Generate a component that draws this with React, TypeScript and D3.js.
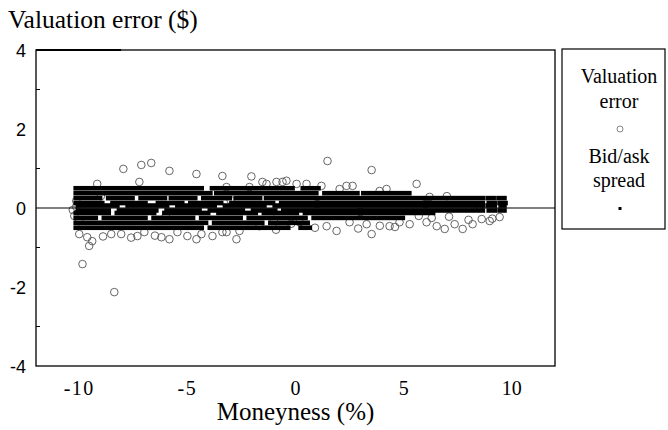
import React from "react";
import * as d3 from "d3";

// Valuation error observations (moneyness %, error $)
const errMoneyness = [
  -7.96, -7.13, -6.67, -5.83, -4.58, -3.38, -2.04, -1.53, -0.88, -0.42, 0.05, 0.51, 1.2, 1.48, 2.04, 2.36, 2.64, 3.52, 3.89, 4.21, 5.6,
  -7.22, -9.17, -3.19, -2.13, -1.34, -0.6, 6.2, 7.0,
  -10.14, -10.23, -10.0, -10.14, -10.3,
  -10.0, -9.63, -9.54, -9.4, -8.52, -8.06, -7.31, -6.99, -6.2, -5.83, -5.46, -5.0, -4.58, -4.35, -3.84, -3.38, -3.19, -2.73, -2.59, -1.67, -7.6, -6.5, -8.9,
  0.19, 1.44, 1.9, 2.5, 3.29, 3.52, 4.35, 4.81, 5.28, 6.06, 6.53, 6.9, 7.36, 7.73, 8.19, 8.61, 8.98, 9.44, 5.7, 6.3, 7.1, 8.0, 9.1,
  -0.9, -0.2, 0.9, 2.9, 3.9, 4.6,
  -9.85, -8.38,
  -9.0, -6.0, -3.0, -1.0, 1.0, 3.0, 6.0, 8.5,
];
const errValue = [
  0.99, 1.09, 1.14, 0.94, 0.86, 0.81, 0.8, 0.66, 0.66, 0.69, 0.61, 0.61, 0.56, 1.19, 0.48, 0.56, 0.56, 0.96, 0.43, 0.48, 0.61,
  0.66, 0.61, 0.53, 0.53, 0.61, 0.66, 0.28, 0.3,
  0.18, -0.2, -0.33, 0.03, -0.05,
  -0.66, -0.74, -0.96, -0.84, -0.66, -0.66, -0.71, -0.61, -0.74, -0.79, -0.61, -0.71, -0.79, -0.66, -0.71, -0.61, -0.61, -0.79, -0.58, -0.46, -0.75, -0.7, -0.72,
  -0.36, -0.46, -0.58, -0.36, -0.41, -0.66, -0.46, -0.36, -0.41, -0.36, -0.46, -0.53, -0.41, -0.53, -0.41, -0.28, -0.33, -0.23, -0.2, -0.25, -0.22, -0.3, -0.27,
  -0.55, -0.4, -0.5, -0.52, -0.45, -0.48,
  -1.42, -2.13,
  0.3, -0.2, 0.2, -0.3, 0.1, -0.1, 0.1, 0.05,
];

// Bid/ask half-spread observations: level ($) observed over moneyness ranges
const spreadLevel = [
  0.5, 0.5, 0.5,
  0.375, 0.375, 0.375, 0.375,
  0.25, 0.25, 0.25, 0.25, 0.25, 0.25, 0.25, 0.25, 0.25,
  0.125, 0.125, 0.125, 0.125, 0.125, 0.125, 0.125, 0.125,
  0.0625, 0.0625, 0.0625, 0.0625, 0.0625, 0.0625, 0.0625,
  -0.0625, -0.0625, -0.0625, -0.0625, -0.0625, -0.0625, -0.0625, -0.0625,
  -0.125, -0.125, -0.125, -0.125, -0.125, -0.125,
  -0.25, -0.25, -0.25, -0.25, -0.25, -0.25,
  -0.375, -0.375, -0.375,
  -0.5, -0.5, -0.5,
];
const spreadFrom = [
  -10.2, -3.9, 0.3,
  -10.2, -3.7, 1.3, 3.1,
  -10.2, -8.7, -7.2, -5.8, -4.3, -2.8, -1.4, 8.85, 9.35,
  -10.2, -8.5, -6.4, -4.9, -3.0, -0.7, 8.9, 9.4,
  -10.1, -7.8, -5.5, -3.3, -1.0, 8.85, 9.45,
  -10.1, -8.2, -6.0, -4.0, -2.0, -0.6, 8.9, 9.4,
  -10.2, -8.3, -6.1, -3.6, -1.5, 0.4,
  -10.2, -8.9, -6.6, -4.4, -2.2, 0.8,
  -10.2, -3.8, -1.2,
  -10.2, -4.0, 0.2,
];
const spreadTo = [
  -4.3, -0.1, 1.1,
  -3.9, 1.0, 2.9, 5.3,
  -9.0, -7.5, -6.0, -4.6, -3.0, -1.6, 8.7, 9.2, 9.7,
  -8.9, -6.9, -5.2, -3.4, -1.0, 8.7, 9.25, 9.75,
  -8.2, -5.9, -3.7, -1.4, 8.7, 9.25, 9.7,
  -8.6, -6.4, -4.4, -2.4, -0.9, 8.7, 9.25, 9.7,
  -8.6, -6.5, -4.0, -1.8, 0.1, 6.4,
  -9.2, -6.9, -4.7, -2.5, 0.5, 5.0,
  -4.1, -1.5, 0.6,
  -4.3, -0.3, 0.7,
];

const xTicks = [-10, -5, 0, 5, 10];
const yTicks = [-4, -2, 0, 2, 4];
const yMinorTicks = [-3, -1, 1, 3];

const SERIF = "Liberation Serif";
const SANS = "Liberation Sans";

export default function App() {
  const left = 36, right = 555, top = 50, bottom = 366;
  const x = d3.scaleLinear().domain([-12, 12]).range([left, right]);
  const y = d3.scaleLinear().domain([-4, 4]).range([bottom, top]);

  const segs = spreadLevel.map((lv, i) => ({ lv, a: spreadFrom[i], b: spreadTo[i] }));
  const pts = errMoneyness.map((m, i) => ({ m, e: errValue[i] }));

  return (
    <svg width={668} height={430} style={{ position: "absolute", left: 0, top: 0, background: "#fff" }}>
      <text fontFamily={SERIF} x={8} y={28} fontSize={25.5} fill="#000">Valuation error ($)</text>

      {/* valuation error circles */}
      {pts.map((p, i) => (
        <circle key={"c" + i} cx={x(p.m)} cy={y(p.e)} r={3.8} fill="none" stroke="#555" strokeWidth={0.9} />
      ))}

      {/* bid/ask spread squares (dense runs) */}
      {segs.map((s, i) => (
        <rect key={"s" + i} x={x(s.a) - 1.5} y={y(s.lv) - 2.3} width={x(s.b) - x(s.a) + 3} height={4.6} fill="#000" />
      ))}

      {/* zero line */}
      <line x1={left} x2={right} y1={y(0)} y2={y(0)} stroke="#000" strokeWidth={1.2} />

      {/* frame */}
      <rect x={left} y={top} width={right - left} height={bottom - top} fill="none" stroke="#000" strokeWidth={1.3} />
      <line x1={left} x2={left + 85} y1={top} y2={top} stroke="#000" strokeWidth={2.2} />

      {yMinorTicks.map((t) => (
        <line key={"mt" + t} x1={left} x2={left + 4} y1={y(t)} y2={y(t)} stroke="#000" strokeWidth={1} />
      ))}

      {yTicks.map((t) => (
        <text key={"yt" + t} fontFamily={SANS} x={26} y={y(t) + 6.5} textAnchor="end" fontSize={18} fill="#000">
          {t}
        </text>
      ))}
      {xTicks.map((t) => (
        <text key={"xt" + t} fontFamily={SERIF} x={x(t)} y={395} textAnchor="middle" fontSize={20} fill="#000" letterSpacing={t < 0 ? 1.5 : 0}>
          {t}
        </text>
      ))}
      <text fontFamily={SERIF} x={x(0)} y={420} textAnchor="middle" fontSize={25} fill="#000">Moneyness (%)</text>

      {/* legend */}
      <rect x={562} y={49} width={103} height={180} fill="none" stroke="#000" strokeWidth={1.2} />
      <text fontFamily={SERIF} x={619} y={83} textAnchor="middle" fontSize={20} fill="#000">Valuation</text>
      <text fontFamily={SERIF} x={619} y={108} textAnchor="middle" fontSize={20} fill="#000">error</text>
      <circle cx={620} cy={129} r={3} fill="none" stroke="#666" strokeWidth={0.8} />
      <text fontFamily={SERIF} x={619} y={163} textAnchor="middle" fontSize={20} fill="#000">Bid/ask</text>
      <text fontFamily={SERIF} x={619} y={187} textAnchor="middle" fontSize={20} fill="#000">spread</text>
      <rect x={618.5} y={207} width={3} height={3} fill="#000" />
    </svg>
  );
}
